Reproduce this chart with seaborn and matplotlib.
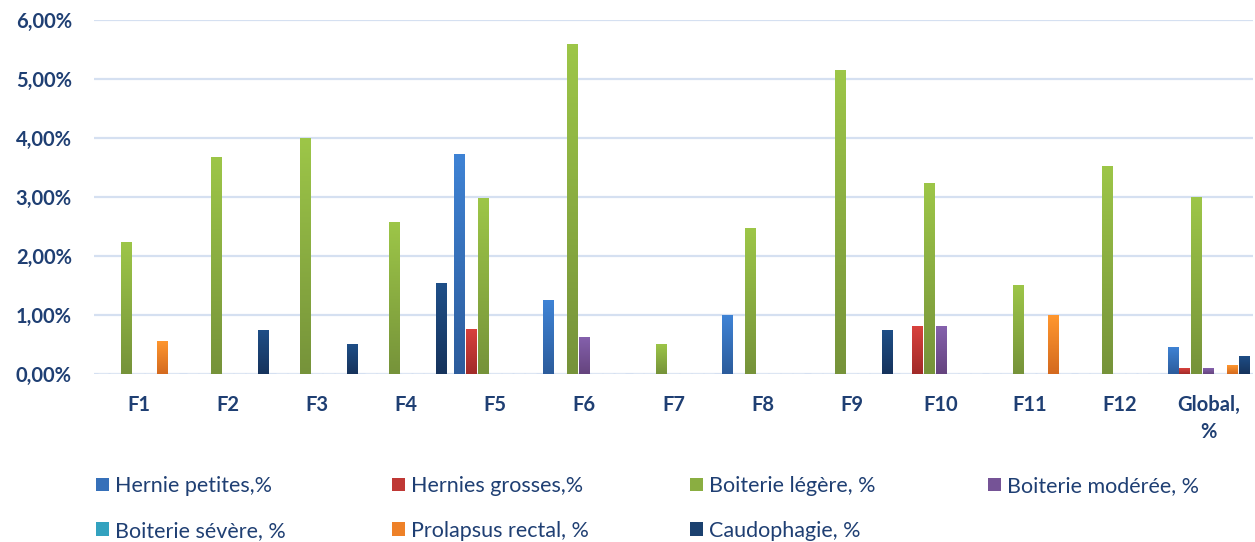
import numpy as np
import pandas as pd
import seaborn as sns
import matplotlib.pyplot as plt
from matplotlib.colors import LinearSegmentedColormap
from matplotlib.patches import Patch
from matplotlib.ticker import FuncFormatter

fermes = ["F1", "F2", "F3", "F4", "F5", "F6", "F7", "F8", "F9", "F10", "F11", "F12", "Global,\n%"]
series = ["Hernie petites,%", "Hernies grosses,%", "Boiterie légère, %", "Boiterie modérée, %",
          "Boiterie sévère, %", "Prolapsus rectal, %", "Caudophagie, %"]

hernie_petites = [0, 0, 0, 0, 3.73, 1.25, 0, 1.00, 0, 0, 0, 0, 0.46]
hernies_grosses = [0, 0, 0, 0, 0.76, 0, 0, 0, 0, 0.81, 0, 0, 0.10]
boiterie_legere = [2.24, 3.68, 4.00, 2.58, 2.99, 5.59, 0.51, 2.47, 5.15, 3.24, 1.51, 3.53, 3.00]
boiterie_moderee = [0, 0, 0, 0, 0, 0.63, 0, 0, 0, 0.81, 0, 0, 0.10]
boiterie_severe = [0, 0, 0, 0, 0, 0, 0, 0, 0, 0, 0, 0, 0]
prolapsus = [0.56, 0, 0, 0, 0, 0, 0, 0, 0, 0, 1.00, 0, 0.15]
caudophagie = [0, 0.75, 0.51, 1.54, 0, 0, 0, 0, 0.75, 0, 0, 0, 0.31]

values = [hernie_petites, hernies_grosses, boiterie_legere, boiterie_moderee,
          boiterie_severe, prolapsus, caudophagie]

# couleurs haut / bas du dégradé (style Excel)
tops = ["#3F83D5", "#D8413D", "#9DC648", "#8561AD", "#3DB9D9", "#FF972F", "#1F4F88"]
bottoms = ["#2C5C9C", "#A12B29", "#76933A", "#65447E", "#2A8BA4", "#D46A1F", "#16335C"]
mids = ["#3670B9", "#BF3835", "#8AAE41", "#755396", "#33A2BF", "#EE8128", "#1B416F"]

txt_col = "#1F3F73"

rows = []
for s, vals in zip(series, values):
    for f, v in zip(fermes, vals):
        rows.append({"ferme": f, "serie": s, "valeur": v})
df = pd.DataFrame(rows)

sns.set_style("white")
plt.rcParams['font.family'] = ['Lato', 'DejaVu Sans']

fig = plt.figure(figsize=(12.55, 5.42), dpi=100)
ax = fig.add_axes([94 / 1255, (542 - 374) / 542, (1253 - 94) / 1255, (374 - 20) / 542])

sns.barplot(data=df, x="ferme", y="valeur", hue="serie", hue_order=series,
            palette=mids, width=0.93, gap=0.1, legend=False, ax=ax, zorder=3)

# dégradé vertical dans chaque barre
grad = np.linspace(0, 1, 100).reshape(-1, 1)
for i, cont in enumerate(ax.containers):
    cmap = LinearSegmentedColormap.from_list("g%d" % i, [bottoms[i], tops[i]])
    for p in cont.patches:
        h = p.get_height()
        if h <= 0:
            continue
        x0 = p.get_x()
        w = p.get_width()
        im = ax.imshow(grad, cmap=cmap, origin="lower", aspect="auto",
                       extent=[x0, x0 + w, 0, h], zorder=4)
        im.set_clip_path(p)
        p.set_edgecolor("none")

ax.set_xlim(-0.5, 12.5)
ax.set_ylim(0, 6)
ax.set_yticks(np.arange(0, 7, 1))
ax.yaxis.set_major_formatter(FuncFormatter(lambda v, _: f"{v:.2f}%".replace(".", ",")))
ax.grid(axis="y", color="#D5E0F1", linewidth=1.6, zorder=0)
ax.set_axisbelow(True)
for sp in ax.spines.values():
    sp.set_visible(False)
ax.tick_params(axis="both", length=0, labelsize=14.5, labelcolor=txt_col)
ax.tick_params(axis="y", pad=16)
ax.tick_params(axis="x", pad=15)
for lab in ax.get_xticklabels() + ax.get_yticklabels():
    lab.set_fontweight("bold")
    lab.set_linespacing(1.45)
ax.set_xlabel("")
ax.set_ylabel("")

# légende : 4 colonnes de largeur égale, remplies ligne par ligne
col_x = [96, 392, 690, 988]
for c in range(4):
    idx = [i for i in (c, c + 4) if i < len(series)]
    hs = [Patch(facecolor=mids[i], edgecolor="none") for i in idx]
    leg = fig.legend(hs, [series[i] for i in idx], loc="upper left",
                     bbox_to_anchor=(col_x[c] / 1255, 1 - 476 / 542), frameon=False,
                     fontsize=15.5, handlelength=0.6, handleheight=0.6,
                     handletextpad=0.3, labelspacing=1.15, borderpad=0, borderaxespad=0)
    for t in leg.get_texts():
        t.set_color(txt_col)

fig.savefig("out.png", dpi=100)
